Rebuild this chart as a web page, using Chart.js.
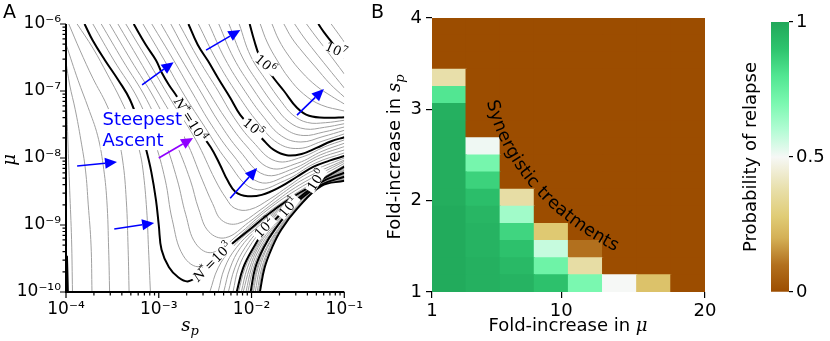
<!DOCTYPE html>
<html>
<head>
<meta charset="utf-8">
<script src="https://cdn.jsdelivr.net/npm/chart.js@4.4.1/dist/chart.umd.min.js"></script>
<style>
  body { margin: 0; background: #fff; }
  #wrap { position: relative; width: 830px; height: 341px; overflow: hidden; font-family: "DejaVu Sans", sans-serif; }
  #wrap canvas { position: absolute; top: 0; }
  .tag { position: absolute; top: 2px; font-size: 19px; line-height: 19px; color: #000; }
</style>
</head>
<body>
<div id="wrap">
  <canvas id="panelA" width="370" height="341" style="left:0;width:370px;height:341px"></canvas>
  <canvas id="panelB" width="350" height="341" style="left:370px;width:350px;height:341px"></canvas>
  <canvas id="colorbar" width="110" height="341" style="left:720px;width:110px;height:341px"></canvas>
  <div class="tag" style="left:3px">A</div>
  <div class="tag" style="left:371px">B</div>
</div>
<script>
Chart.defaults.font.family = '"DejaVu Sans", sans-serif';
Chart.defaults.color = '#000';

// ---------------- Panel A: contours of N* (points are [log10 s_p, log10 mu]) ----------------
const sTicksA = [1e-4, 1e-3, 1e-2, 1e-1];
const muTicksA = [1e-10, 1e-9, 1e-8, 1e-7, 1e-6];

const nStar1e0 = [[-1.91,-10],[-1.86,-9.64],[-1.78,-9.34],[-1.68,-9.07],[-1.51,-8.76],[-1.25,-8.42],[-1.00,-8.34]];
const nStar1e1 = [[-2.01,-10],[-1.96,-9.64],[-1.87,-9.34],[-1.75,-9.07],[-1.51,-8.66],[-1.25,-8.40],[-1.00,-8.28]];
const nStar1e2 = [[-2.16,-10],[-2.09,-9.64],[-1.98,-9.34],[-1.85,-9.07],[-1.51,-8.62],[-1.25,-8.36],[-1.00,-8.22]];
const nStar1e2Edge = [[-3.98,-10],[-3.985,-9.70],[-3.99,-9.46]];
const nStar1e3 = [[-3.80,-6.00],[-3.71,-6.25],[-3.58,-6.54],[-3.43,-6.85],[-3.31,-7.13],[-3.21,-7.51],[-3.14,-7.85],[-3.08,-8.21],[-3.03,-8.63],[-3.00,-9.00],[-2.97,-9.37],[-2.89,-9.63],[-2.79,-9.78],[-2.68,-9.84],[-2.52,-9.70],[-2.36,-9.49],[-2.20,-9.27],[-2.04,-9.09],[-1.83,-8.85],[-1.62,-8.64],[-1.41,-8.46],[-1.19,-8.28],[-1.00,-8.13]];
const nStar1e4 = [[-3.27,-6.00],[-3.14,-6.31],[-3.03,-6.54],[-2.97,-6.72],[-2.89,-6.91],[-2.81,-7.07],[-2.68,-7.36],[-2.58,-7.58],[-2.44,-7.84],[-2.34,-8.10],[-2.26,-8.33],[-2.17,-8.51],[-2.04,-8.57],[-1.89,-8.55],[-1.69,-8.43],[-1.51,-8.28],[-1.33,-8.13],[-1.16,-8.04],[-1.00,-7.97]];
const nStar1e5 = [[-2.68,-6.00],[-2.58,-6.31],[-2.47,-6.55],[-2.36,-6.81],[-2.23,-7.10],[-2.12,-7.36],[-1.99,-7.55],[-1.86,-7.75],[-1.76,-7.88],[-1.62,-7.96],[-1.46,-7.94],[-1.30,-7.85],[-1.14,-7.75],[-1.00,-7.69]];
const nStar1e6 = [[-2.02,-6.00],[-1.97,-6.25],[-1.92,-6.46],[-1.85,-6.63],[-1.76,-6.81],[-1.65,-7.00],[-1.51,-7.25],[-1.38,-7.37],[-1.16,-7.40],[-1.00,-7.39]];
const nStar1e7 = [[-1.28,-6.00],[-1.22,-6.12],[-1.13,-6.28],[-1.00,-6.51]];

const thinContours = [
  [[-3.93,-10],[-3.94,-9.22],[-3.96,-8.48],[-3.98,-7.73],[-4,-6.87]],
  [[-3.72,-10],[-3.73,-9.30],[-3.76,-8.70],[-3.79,-8.18],[-3.84,-7.73],[-3.90,-7.28],[-3.96,-6.91],[-4,-6.57]],
  [[-3.53,-10],[-3.54,-9.37],[-3.56,-8.63],[-3.60,-8.10],[-3.66,-7.66],[-3.76,-7.25],[-3.87,-6.84],[-4,-6.30]],
  [[-3.32,-10],[-3.33,-9.37],[-3.35,-8.63],[-3.39,-8.03],[-3.46,-7.58],[-3.56,-7.21],[-3.71,-6.81],[-3.85,-6.39],[-3.97,-6]],
  [[-3.09,-10],[-3.11,-9.37],[-3.13,-8.78],[-3.17,-8.18],[-3.21,-7.88],[-3.29,-7.51],[-3.41,-7.13],[-3.55,-6.76],[-3.71,-6.36],[-3.88,-6]],
  [[-1.925,-10],[-1.876,-9.64],[-1.799,-9.34],[-1.69,-9.07],[-1.51,-8.74],[-1.25,-8.41],[-1,-8.33]],
  [[-1.94,-10],[-1.89,-9.64],[-1.81,-9.34],[-1.70,-9.07],[-1.51,-8.73],[-1.25,-8.41],[-1,-8.32]],
  [[-1.96,-10],[-1.91,-9.64],[-1.83,-9.34],[-1.71,-9.07],[-1.51,-8.71],[-1.25,-8.41],[-1,-8.31]],
  [[-1.98,-10],[-1.93,-9.64],[-1.84,-9.34],[-1.72,-9.07],[-1.51,-8.69],[-1.25,-8.41],[-1,-8.30]],
  [[-1.995,-10],[-1.94,-9.64],[-1.86,-9.34],[-1.74,-9.07],[-1.51,-8.675],[-1.25,-8.41],[-1,-8.29]],
  [[-2.04,-10],[-1.98,-9.64],[-1.89,-9.34],[-1.765,-9.07],[-1.51,-8.65],[-1.25,-8.40],[-1,-8.27]],
  [[-2.06,-10],[-2.00,-9.64],[-1.91,-9.34],[-1.78,-9.07],[-1.51,-8.645],[-1.25,-8.39],[-1,-8.26]],
  [[-2.09,-10],[-2.02,-9.64],[-1.93,-9.34],[-1.80,-9.07],[-1.51,-8.64],[-1.25,-8.38],[-1,-8.25]],
  [[-2.11,-10],[-2.045,-9.64],[-1.945,-9.34],[-1.82,-9.07],[-1.51,-8.63],[-1.25,-8.37],[-1,-8.24]],
  [[-2.14,-10],[-2.07,-9.64],[-1.96,-9.34],[-1.835,-9.07],[-1.51,-8.625],[-1.25,-8.37],[-1,-8.23]],
  [[-2.20,-10],[-2.14,-9.64],[-2.03,-9.34],[-1.88,-9.07],[-1.51,-8.61],[-1.25,-8.35],[-1,-8.21]],
  [[-2.25,-10],[-2.18,-9.64],[-2.07,-9.34],[-1.91,-9.07],[-1.51,-8.60],[-1.25,-8.35],[-1,-8.19]],
  [[-2.30,-10],[-2.23,-9.64],[-2.12,-9.34],[-1.94,-9.07],[-1.51,-8.59],[-1.25,-8.34],[-1,-8.18]],
  [[-2.36,-10],[-2.29,-9.64],[-2.165,-9.34],[-1.97,-9.07],[-1.51,-8.575],[-1.25,-8.34],[-1,-8.16]],
  [[-2.45,-10],[-2.36,-9.64],[-2.21,-9.34],[-2.00,-9.07],[-1.51,-8.56],[-1.25,-8.33],[-1,-8.15]],
  [[-3.71,-6],[-3.485,-6.54],[-3.22,-7.13],[-3.05,-7.73],[-2.93,-8.33],[-2.855,-8.92],[-2.735,-9.46],[-2.55,-9.62],[-2.25,-9.32],[-1.96,-8.96],[-1.57,-8.57],[-1,-8.11]],
  [[-3.62,-6],[-3.39,-6.54],[-3.13,-7.13],[-2.94,-7.73],[-2.80,-8.33],[-2.71,-8.84],[-2.60,-9.28],[-2.42,-9.41],[-2.14,-9.14],[-1.87,-8.82],[-1.52,-8.48],[-1,-8.08]],
  [[-3.53,-6],[-3.30,-6.54],[-3.04,-7.13],[-2.83,-7.73],[-2.66,-8.33],[-2.57,-8.76],[-2.46,-9.10],[-2.28,-9.19],[-2.03,-8.96],[-1.78,-8.69],[-1.48,-8.40],[-1,-8.05]],
  [[-3.44,-6],[-3.21,-6.54],[-2.96,-7.13],[-2.71,-7.73],[-2.53,-8.33],[-2.42,-8.68],[-2.32,-8.93],[-2.15,-8.98],[-1.92,-8.79],[-1.69,-8.55],[-1.43,-8.31],[-1,-8.03]],
  [[-3.355,-6],[-3.12,-6.54],[-2.87,-7.13],[-2.60,-7.73],[-2.39,-8.33],[-2.275,-8.60],[-2.18,-8.75],[-2.02,-8.77],[-1.80,-8.61],[-1.60,-8.42],[-1.38,-8.22],[-1,-8.00]],
  [[-3.17,-6],[-2.94,-6.54],[-2.725,-7.06],[-2.50,-7.545],[-2.27,-8.03],[-1.98,-8.46],[-1.645,-8.34],[-1.31,-8.075],[-1,-7.925]],
  [[-3.075,-6],[-2.84,-6.54],[-2.63,-7.045],[-2.43,-7.51],[-2.20,-7.955],[-1.92,-8.36],[-1.60,-8.25],[-1.29,-8.015],[-1,-7.88]],
  [[-2.975,-6],[-2.75,-6.54],[-2.54,-7.03],[-2.35,-7.47],[-2.13,-7.89],[-1.86,-8.25],[-1.55,-8.16],[-1.26,-7.955],[-1,-7.83]],
  [[-2.87,-6],[-2.66,-6.54],[-2.46,-7.015],[-2.27,-7.43],[-2.055,-7.82],[-1.80,-8.15],[-1.50,-8.075],[-1.24,-7.90],[-1,-7.78]],
  [[-2.78,-6],[-2.565,-6.54],[-2.36,-7.00],[-2.19,-7.395],[-1.99,-7.75],[-1.74,-8.045],[-1.455,-7.985],[-1.215,-7.835],[-1,-7.73]],
  [[-2.573,-6],[-2.377,-6.54],[-2.148,-7.055],[-1.93,-7.473],[-1.717,-7.776],[-1.49,-7.858],[-1.24,-7.75],[-1,-7.64]],
  [[-2.46,-6],[-2.286,-6.52],[-2.07,-7.005],[-1.867,-7.393],[-1.676,-7.672],[-1.468,-7.761],[-1.23,-7.68],[-1,-7.587]],
  [[-2.353,-6],[-2.193,-6.507],[-1.991,-6.955],[-1.806,-7.313],[-1.635,-7.567],[-1.444,-7.664],[-1.221,-7.612],[-1,-7.537]],
  [[-2.243,-6],[-2.10,-6.493],[-1.914,-6.906],[-1.744,-7.234],[-1.595,-7.463],[-1.421,-7.567],[-1.213,-7.542],[-1,-7.488]],
  [[-2.133,-6],[-2.01,-6.478],[-1.835,-6.855],[-1.681,-7.154],[-1.554,-7.358],[-1.398,-7.47],[-1.203,-7.473],[-1,-7.437]],
  [[-1.906,-6],[-1.832,-6.269],[-1.726,-6.537],[-1.598,-6.806],[-1.439,-7.045],[-1.248,-7.209],[-1,-7.299]],
  [[-1.779,-6],[-1.705,-6.239],[-1.598,-6.478],[-1.46,-6.716],[-1.301,-6.925],[-1.141,-7.075],[-1,-7.194]],
  [[-1.651,-6],[-1.566,-6.209],[-1.449,-6.418],[-1.311,-6.642],[-1.152,-6.896],[-1,-7.09]],
  [[-1.535,-6],[-1.439,-6.194],[-1.322,-6.403],[-1.184,-6.642],[-1,-6.955]],
  [[-1.407,-6],[-1.311,-6.179],[-1.194,-6.388],[-1,-6.746]],
  [[-1.141,-6],[-1.078,-6.119],[-1,-6.269]]
];

// contour labels: log10 s, log10 mu, angle (deg), "N*=" prefix, exponent
const contourLabels = [
  [-2.66, -7.43, 58, true, '4'],
  [-1.98, -7.55, 40, false, '5'],
  [-1.85, -6.60, 40, false, '6'],
  [-1.09, -6.39, 24, false, '7'],
  [-2.42, -9.55, -45, true, '3'],
  [-1.86, -9.04, -47, false, '2'],
  [-1.60, -8.73, -50, false, '1'],
  [-1.30, -8.33, -57, false, '0']
];

// steepest-ascent arrows (log10 s, log10 mu)
const arrowTail = [[-3.88,-8.12],[-3.48,-9.06],[-3.18,-6.91],[-3.00,-8.00],[-2.49,-6.39],[-2.23,-8.60],[-1.51,-7.36]];
const arrowHead = [[-3.45,-8.06],[-3.05,-8.97],[-2.84,-6.57],[-2.63,-7.70],[-2.12,-6.09],[-1.94,-8.15],[-1.22,-6.97]];
const arrowColor = ['#0000ff','#0000ff','#0000ff','#8f00ff','#0000ff','#0000ff','#0000ff'];
const ascentText = [-3.607, -7.284];

// ---------------- Panel B: probability of relapse ----------------
const muFoldEdges = [1, 3.375, 5.75, 8.125, 10.5, 12.875, 15.25, 17.625, 20];
const spFoldEdges = [1, 1.1875, 1.375, 1.5625, 1.75, 1.9375, 2.125, 2.3125, 2.5, 2.6875, 2.875, 3.0625, 3.25, 3.4375, 3.625, 3.8125, 4];
const muTicksB = [1, 10, 20];
const spTicksB = [1, 2, 3, 4];
const relapseProb = [
  [0.99, 0.97, 0.96, 0.91, 0.70, 0.50, 0.25, 0],
  [0.99, 0.97, 0.94, 0.73, 0.37, 0, 0, 0],
  [0.99, 0.96, 0.91, 0.57, 0.10, 0, 0, 0],
  [0.99, 0.96, 0.85, 0.27, 0, 0, 0, 0],
  [0.99, 0.95, 0.63, 0, 0, 0, 0, 0],
  [0.98, 0.92, 0.37, 0, 0, 0, 0, 0],
  [0.98, 0.86, 0, 0, 0, 0, 0, 0],
  [0.98, 0.71, 0, 0, 0, 0, 0, 0],
  [0.98, 0.51, 0, 0, 0, 0, 0, 0],
  [0.98, 0, 0, 0, 0, 0, 0, 0],
  [0.97, 0, 0, 0, 0, 0, 0, 0],
  [0.80, 0, 0, 0, 0, 0, 0, 0],
  [0.38, 0, 0, 0, 0, 0, 0, 0],
  [0, 0, 0, 0, 0, 0, 0, 0],
  [0, 0, 0, 0, 0, 0, 0, 0],
  [0, 0, 0, 0, 0, 0, 0, 0]
];
const cbarTicks = [0, 0.5, 1];
const synergyPath = [[5.11, 3.10], [6.08, 2.50], [8.52, 1.90], [14.64, 1.43]];

const cmapStops = [
  [0.00, [156, 77, 0]],
  [0.10, [178, 112, 30]],
  [0.20, [212, 176, 86]],
  [0.28, [224, 204, 118]],
  [0.38, [232, 223, 170]],
  [0.50, [246, 248, 246]],
  [0.60, [178, 252, 212]],
  [0.70, [122, 248, 176]],
  [0.80, [82, 230, 146]],
  [0.90, [46, 196, 110]],
  [1.00, [33, 168, 90]]
];

function probColor(p) {
  for (let i = 1; i < cmapStops.length; i++) {
    const [v1, c1] = cmapStops[i];
    if (p <= v1) {
      const [v0, c0] = cmapStops[i - 1];
      const f = (p - v0) / (v1 - v0);
      return 'rgb(' + c0.map((c, k) => Math.round(c + (c1[k] - c) * f)).join(',') + ')';
    }
  }
  return 'rgb(' + cmapStops[cmapStops.length - 1][1].join(',') + ')';
}

const SUP = { '-': '\u207B', '0': '\u2070', '1': '\u00B9', '2': '\u00B2', '3': '\u00B3', '4': '\u2074', '5': '\u2075', '6': '\u2076', '7': '\u2077', '8': '\u2078', '9': '\u2079' };
const powLabel = v => '10' + String(Math.round(Math.log10(v))).split('').map(c => SUP[c]).join('');

function mixedText(ctx, parts, cx, cy, rot) {
  let w = 0;
  const widths = parts.map(p => { ctx.font = p[1]; const m = ctx.measureText(p[0]).width; w += m; return m; });
  ctx.save();
  ctx.translate(cx, cy);
  ctx.rotate(rot);
  ctx.fillStyle = '#000';
  ctx.textBaseline = 'alphabetic';
  let px = -w / 2;
  parts.forEach((p, i) => { ctx.font = p[1]; ctx.fillText(p[0], px, p[2]); px += widths[i]; });
  ctx.restore();
}

function mathLabel(ctx, x, y, angle, withN, exp) {
  const big = '13px "DejaVu Serif"', it = 'italic 13px "DejaVu Serif"', sm = '9px "DejaVu Serif"';
  const parts = [];
  if (withN) parts.push(['N', it, 0], ['*', sm, -4], ['=', big, 0]);
  parts.push(['10', big, 0], [exp, sm, -5]);
  let w = 0;
  const widths = parts.map(p => { ctx.font = p[1]; const m = ctx.measureText(p[0]).width; w += m; return m; });
  ctx.save();
  ctx.translate(x, y);
  ctx.rotate(angle * Math.PI / 180);
  ctx.fillStyle = '#fff';
  ctx.fillRect(-w / 2 - 2, -5, w + 4, 10);
  ctx.fillStyle = '#000';
  ctx.textBaseline = 'middle';
  let px = -w / 2;
  parts.forEach((p, i) => { ctx.font = p[1]; ctx.fillText(p[0], px, p[2] + 1); px += widths[i]; });
  ctx.restore();
}

function drawArrow(ctx, x0, y0, x1, y1, color) {
  const a = Math.atan2(y1 - y0, x1 - x0), L = 12, W = 5.5;
  const bx = x1 - L * Math.cos(a), by = y1 - L * Math.sin(a);
  ctx.strokeStyle = color;
  ctx.fillStyle = color;
  ctx.lineWidth = 1.6;
  ctx.beginPath(); ctx.moveTo(x0, y0); ctx.lineTo(bx, by); ctx.stroke();
  ctx.beginPath();
  ctx.moveTo(x1, y1);
  ctx.lineTo(bx + W * Math.sin(a), by - W * Math.cos(a));
  ctx.lineTo(bx - W * Math.sin(a), by + W * Math.cos(a));
  ctx.closePath(); ctx.fill();
}

function textAlongCurve(ctx, text, pts, font) {
  const bez = t => {
    const u = 1 - t;
    return [0, 1].map(k => u * u * u * pts[0][k] + 3 * u * u * t * pts[1][k] + 3 * u * t * t * pts[2][k] + t * t * t * pts[3][k]);
  };
  const samples = [{ s: 0, p: bez(0) }];
  let len = 0;
  for (let i = 1; i <= 400; i++) {
    const p = bez(i / 400), q = samples[i - 1].p;
    len += Math.hypot(p[0] - q[0], p[1] - q[1]);
    samples.push({ s: len, p });
  }
  ctx.font = font;
  ctx.textAlign = 'center';
  ctx.textBaseline = 'middle';
  ctx.fillStyle = '#000';
  let d = 0;
  for (const ch of text) {
    const w = ctx.measureText(ch).width;
    let i = samples.findIndex(q => q.s >= d + w / 2);
    if (i === -1) i = samples.length - 1;
    if (i < 1) i = 1;
    const a = samples[i - 1].p, b = samples[i].p;
    ctx.save();
    ctx.translate(b[0], b[1]);
    ctx.rotate(Math.atan2(b[1] - a[1], b[0] - a[0]));
    ctx.fillText(ch, 0, 0);
    ctx.restore();
    d += w;
  }
}

// ---------------- Panel A chart ----------------
const toPoints = pts => pts.map(([ls, lm]) => ({ x: 10 ** ls, y: 10 ** lm }));
const lineSet = (pts, color, width) => ({
  data: toPoints(pts), showLine: true, borderColor: color, borderWidth: width,
  pointRadius: 0, tension: 0.4, fill: false
});

const blackLines = [nStar1e0, nStar1e1, nStar1e2, nStar1e2Edge, nStar1e3, nStar1e4, nStar1e5, nStar1e6, nStar1e7];

const frameA = {
  id: 'frameA',
  afterDatasetsDraw(chart) {
    const { ctx, scales: { x, y } } = chart;
    const px = v => x.getPixelForValue(10 ** v), py = v => y.getPixelForValue(10 ** v);
    ctx.save();
    contourLabels.forEach(([ls, lm, ang, withN, exp]) => mathLabel(ctx, px(ls), py(lm), ang, withN, exp));
    const tx = px(ascentText[0]), ty = py(ascentText[1]);
    ctx.font = '18px "DejaVu Sans"';
    const w = Math.max(ctx.measureText('Steepest').width, ctx.measureText('Ascent').width);
    ctx.fillStyle = '#fff';
    ctx.fillRect(tx - 2, ty - 1, w + 4, 41);
    ctx.fillStyle = '#0000ff';
    ctx.textBaseline = 'alphabetic';
    ctx.fillText('Steepest', tx, ty + 15);
    ctx.fillText('Ascent', tx, ty + 36);
    arrowTail.forEach((t, i) => drawArrow(ctx, px(t[0]), py(t[1]), px(arrowHead[i][0]), py(arrowHead[i][1]), arrowColor[i]));
    ctx.restore();
  },
  afterDraw(chart) {
    const { ctx, chartArea: a, scales: { x, y } } = chart;
    ctx.save();
    ctx.strokeStyle = '#000';
    ctx.lineWidth = 1.2;
    ctx.beginPath();
    for (let e = -4; e <= -1; e++) {
      for (let m = 1; m < 10; m++) {
        if (e === -1 && m > 1) break;
        const p = x.getPixelForValue(m * 10 ** e), len = m === 1 ? 6 : 3.5;
        ctx.moveTo(p, a.bottom); ctx.lineTo(p, a.bottom + len);
      }
    }
    for (let e = -10; e <= -6; e++) {
      for (let m = 1; m < 10; m++) {
        if (e === -6 && m > 1) break;
        const p = y.getPixelForValue(m * 10 ** e), len = m === 1 ? 6 : 3.5;
        ctx.moveTo(a.left, p); ctx.lineTo(a.left - len, p);
      }
    }
    ctx.stroke();
    ctx.lineWidth = 2;
    ctx.beginPath();
    ctx.moveTo(a.left, a.top); ctx.lineTo(a.left, a.bottom); ctx.lineTo(a.right, a.bottom);
    ctx.stroke();
    ctx.restore();
    mixedText(ctx, [['s', 'italic 18px "DejaVu Serif"', 0], ['p', 'italic 13px "DejaVu Serif"', 4]], 190, 331, 0);
    mixedText(ctx, [['\u03BC', 'italic 18px "DejaVu Serif"', 0]], 15, 160, -Math.PI / 2);
  }
};

new Chart(document.getElementById('panelA'), {
  type: 'scatter',
  data: {
    datasets: [
      ...blackLines.map(l => lineSet(l, '#000', 2)),
      ...thinContours.map(l => lineSet(l, '#a0a0a0', 1))
    ]
  },
  options: {
    responsive: false, animation: false, events: [],
    layout: { padding: { top: 24, right: 22, left: 0, bottom: 0 } },
    plugins: { legend: { display: false }, tooltip: { enabled: false } },
    scales: {
      x: {
        type: 'logarithmic', min: 1e-4, max: 1e-1,
        afterBuildTicks: s => { s.ticks = sTicksA.map(v => ({ value: v })); },
        afterFit: s => { s.height = 49; },
        grid: { display: false, drawTicks: false }, border: { display: false },
        ticks: { callback: v => powLabel(v), font: { size: 17 }, color: '#000', padding: 7, autoSkip: false, maxRotation: 0 }
      },
      y: {
        type: 'logarithmic', min: 1e-10, max: 1e-6,
        afterBuildTicks: s => { s.ticks = muTicksA.map(v => ({ value: v })); },
        afterFit: s => { s.width = 66; },
        grid: { display: false, drawTicks: false }, border: { display: false },
        ticks: { callback: v => powLabel(v), font: { size: 17 }, color: '#000', padding: 5, autoSkip: false }
      }
    }
  },
  plugins: [frameA]
});

// ---------------- Panel B chart ----------------
const heatSets = relapseProb.map((row, r) => ({
  data: row.map(() => [spFoldEdges[r], spFoldEdges[r + 1]]),
  backgroundColor: row.map(probColor),
  borderWidth: 0,
  inflateAmount: 0.6,
  grouped: false,
  barPercentage: 1,
  categoryPercentage: 1
}));

const extrasB = {
  id: 'extrasB',
  afterDatasetsDraw(chart) {
    const { ctx, scales: { xt, y } } = chart;
    const pts = synergyPath.map(([m, s]) => [xt.getPixelForValue(m), y.getPixelForValue(s)]);
    ctx.save();
    textAlongCurve(ctx, 'Synergistic treatments', pts, '17.5px "DejaVu Sans"');
    ctx.restore();
  },
  afterDraw(chart) {
    const { ctx } = chart;
    mixedText(ctx, [['Fold-increase in ', '18px "DejaVu Sans"', 0], ['\u03BC', 'italic 18px "DejaVu Serif"', 0]], 198, 331, 0);
    mixedText(ctx, [['Fold-increase in ', '18px "DejaVu Sans"', 0], ['s', 'italic 18px "DejaVu Serif"', 0], ['p', 'italic 13px "DejaVu Serif"', 4]], 30, 157, -Math.PI / 2);
  }
};

const tickStyle = { font: { size: 18 }, color: '#000', autoSkip: false, maxRotation: 0, callback: v => String(v) };

new Chart(document.getElementById('panelB'), {
  type: 'bar',
  data: { labels: muFoldEdges.slice(0, -1).map(String), datasets: heatSets },
  options: {
    responsive: false, animation: false, events: [],
    layout: { padding: { top: 18, right: 15, left: 0, bottom: 0 } },
    plugins: { legend: { display: false }, tooltip: { enabled: false } },
    scales: {
      x: { type: 'category', display: false },
      xt: {
        type: 'linear', position: 'bottom', min: 1, max: 20, offset: false,
        afterBuildTicks: s => { s.ticks = muTicksB.map(v => ({ value: v })); },
        afterFit: s => { s.height = 49; },
        grid: { drawOnChartArea: false, offset: false, color: '#000', tickLength: 6, lineWidth: 1.2 },
        border: { display: false },
        ticks: { ...tickStyle, padding: 3 }
      },
      y: {
        type: 'linear', min: 1, max: 4,
        afterBuildTicks: s => { s.ticks = spTicksB.map(v => ({ value: v })); },
        afterFit: s => { s.width = 62; },
        grid: { drawOnChartArea: false, color: '#000', tickLength: 6, lineWidth: 1.2 },
        border: { display: false },
        ticks: { ...tickStyle, padding: 4 }
      }
    }
  },
  plugins: [extrasB]
});

// ---------------- Colorbar ----------------
const cbarTitle = {
  id: 'cbarTitle',
  afterDraw(chart) {
    mixedText(chart.ctx, [['Probability of relapse', '18px "DejaVu Sans"', 0]], 36, 157, -Math.PI / 2);
  }
};

new Chart(document.getElementById('colorbar'), {
  type: 'bar',
  data: {
    labels: [''],
    datasets: [{
      data: [[0, 1]],
      backgroundColor: c => {
        const area = c.chart.chartArea;
        if (!area) return '#fff';
        const g = c.chart.ctx.createLinearGradient(0, area.bottom, 0, area.top);
        cmapStops.forEach(([v, col]) => g.addColorStop(v, 'rgb(' + col.join(',') + ')'));
        return g;
      },
      borderWidth: 0, barPercentage: 1, categoryPercentage: 1
    }]
  },
  options: {
    responsive: false, animation: false, events: [],
    layout: { padding: { left: 51, top: 22, bottom: 49, right: 0 } },
    plugins: { legend: { display: false }, tooltip: { enabled: false } },
    scales: {
      x: { display: false },
      y: {
        position: 'right', min: 0, max: 1,
        afterBuildTicks: s => { s.ticks = cbarTicks.map(v => ({ value: v })); },
        afterFit: s => { s.width = 41; },
        grid: { drawOnChartArea: false, color: '#000', tickLength: 4, lineWidth: 1.2 },
        border: { display: false },
        ticks: { ...tickStyle, padding: 3 }
      }
    }
  },
  plugins: [cbarTitle]
});
</script>
</body>
</html>
